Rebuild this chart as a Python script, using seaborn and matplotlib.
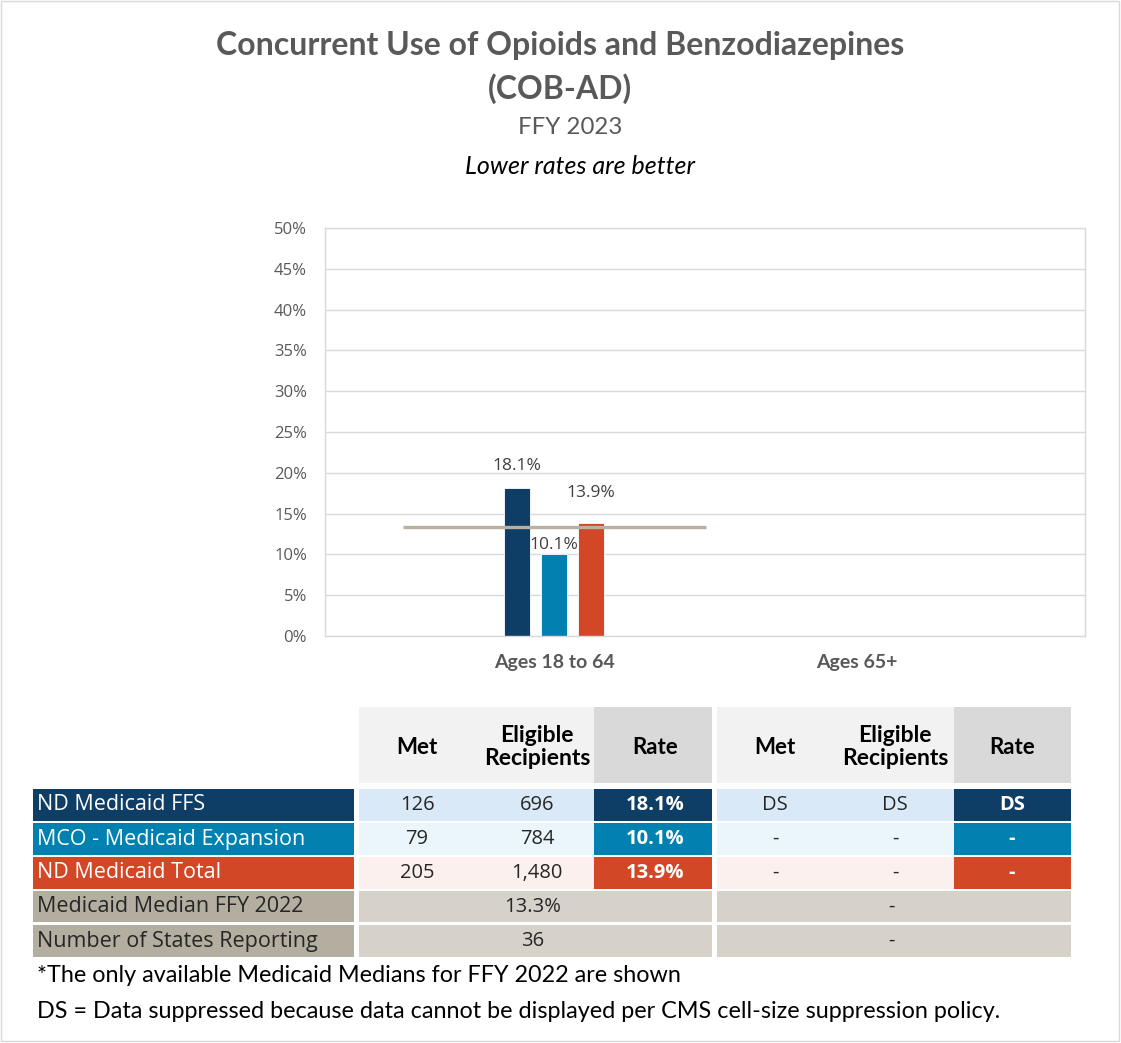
import numpy as np
import pandas as pd
import matplotlib
matplotlib.use("Agg")
import matplotlib.pyplot as plt
from matplotlib.patches import Rectangle
import seaborn as sns

# ---------------- data ----------------
categories = ["Ages 18 to 64", "Ages 65+"]
series = ["ND Medicaid FFS", "MCO - Medicaid Expansion", "ND Medicaid Total"]
rates_18_64 = [18.1, 10.1, 13.9]
rates_65_plus = [np.nan, np.nan, np.nan]
median_ffy2022 = 13.3
yticks = [0, 5, 10, 15, 20, 25, 30, 35, 40, 45, 50]

met_18_64 = ["126", "79", "205"]
eligible_18_64 = ["696", "784", "1,480"]
rate_text_18_64 = ["18.1%", "10.1%", "13.9%"]
met_65_plus = ["DS", "-", "-"]
eligible_65_plus = ["DS", "-", "-"]
rate_text_65_plus = ["DS", "-", "-"]
median_text = ["13.3%", "-"]
states_reporting = ["36", "-"]
footnotes = ["*The only available Medicaid Medians for FFY 2022 are shown",
             "DS = Data suppressed because data cannot be displayed per CMS cell-size suppression policy."]

series_colors = ["#0E3D66", "#0081B0", "#D24826"]
light_colors = ["#DAE9F7", "#EAF6FC", "#FBF0ED"]

# ---------------- figure ----------------
W, H = 1121, 1043
sns.set_theme(style="white")
plt.rcParams["font.family"] = ["Open Sans", "DejaVu Sans"]
fig = plt.figure(figsize=(W / 100, H / 100), dpi=100)
fig.patch.set_facecolor("white")

ax = fig.add_axes([325 / W, 1 - 636 / H, 760 / W, 408 / H])

df = pd.DataFrame({
    "category": np.repeat(categories, len(series)),
    "series": series * len(categories),
    "rate": rates_18_64 + rates_65_plus,
})

sns.barplot(data=df, x="category", y="rate", hue="series", order=categories,
            hue_order=series, palette=series_colors, saturation=1, width=0.366, gap=0.3,
            edgecolor="white", linewidth=0.6, legend=False, ax=ax)

# median line across first category
ax.hlines(median_ffy2022, -0.5, 0.5, color="#B8B1A2", linewidth=2.4, zorder=5)

# data labels (offsets in points)
label_offsets = [16, 6, 21]
for cont, val, dy in zip(ax.containers, rates_18_64, label_offsets):
    bar = cont.patches[0]
    xc = bar.get_x() + bar.get_width() / 2
    ax.annotate(f"{val:.1f}%", (xc, val), xytext=(0, dy), textcoords="offset points",
                ha="center", va="center", fontsize=12.5, color="#404040", zorder=6)

ax.set_ylim(0, 50)
ax.set_xlim(-0.756, 1.752)
ax.set_yticks(yticks)
ax.set_yticklabels([f"{t}%" for t in yticks], fontsize=12, color="#595959")
ax.tick_params(axis="y", length=0, pad=13)
ax.tick_params(axis="x", length=0, pad=13)
for lbl in ax.get_xticklabels():
    lbl.set_fontweight("bold")
    lbl.set_color("#595959")
    lbl.set_fontsize(14)
    lbl.set_family(["Lato", "DejaVu Sans"])
ax.set_xlabel("")
ax.set_ylabel("")
ax.grid(axis="y", color="#D9D9D9", linewidth=1)
ax.set_axisbelow(True)
for s in ax.spines.values():
    s.set_color("#D9D9D9")
    s.set_linewidth(1)

# ---------------- titles ----------------
title_font = ["Lato", "DejaVu Sans"]
fig.text(560 / W, 1 - 46 / H, "Concurrent Use of Opioids and Benzodiazepines",
         ha="center", va="center", fontsize=23, fontweight="bold", color="#595959",
         family=title_font)
fig.text(560 / W, 1 - 89 / H, "(COB-AD)", ha="center", va="center", fontsize=23,
         fontweight="bold", color="#595959", family=title_font)
fig.text(570 / W, 1 - 128 / H, "FFY 2023", ha="center", va="center", fontsize=17.3,
         color="#595959", family=title_font)
fig.text(580 / W, 1 - 166 / H, "Lower rates are better", ha="center", va="center",
         fontsize=18, style="italic", color="#000000", family=title_font)

# ---------------- table (overlay in pixel coordinates) ----------------
tab = fig.add_axes([0, 0, 1, 1], zorder=10)
tab.set_xlim(0, W)
tab.set_ylim(H, 0)
tab.axis("off")
tab.patch.set_alpha(0)


def cell(x0, x1, y0, y1, color):
    tab.add_patch(Rectangle((x0, y0), x1 - x0, y1 - y0, facecolor=color,
                            edgecolor="none"))


def txt(x, y, s, **kw):
    kw.setdefault("ha", "center")
    kw.setdefault("va", "center")
    tab.text(x, y, s, **kw)


groups = [(359, 594, 712), (717, 954, 1071)]
col_centers = [(417, 537, 655), (775, 895, 1012)]
header = (707, 783)
rows = [(789, 821), (823, 855), (857, 889), (891, 922), (925, 957)]
label_col = (33, 354)
hdr_font = ["Lato", "DejaVu Sans"]
tbl_font = ["Open Sans", "DejaVu Sans"]

# header
for (g0, r0, g1), cc in zip(groups, col_centers):
    cell(g0, r0, *header, "#F2F2F2")
    cell(r0, g1, *header, "#D9D9D9")
    txt(cc[0], 747, "Met", fontsize=16, fontweight="bold", color="#000000", family=hdr_font)
    txt(cc[1], 747, "Eligible\nRecipients", fontsize=16.5, fontweight="bold",
        color="#000000", family=hdr_font, linespacing=1.1)
    txt(cc[2], 747, "Rate", fontsize=16, fontweight="bold", color="#000000", family=hdr_font)

# series rows
group_values = [(met_18_64, eligible_18_64, rate_text_18_64),
                (met_65_plus, eligible_65_plus, rate_text_65_plus)]
for i, name in enumerate(series):
    y0, y1 = rows[i]
    ym = (y0 + y1) / 2
    cell(label_col[0], label_col[1], y0, y1, series_colors[i])
    txt(37, ym, name, ha="left", fontsize=15.5, color="white", family=tbl_font)
    for (g0, r0, g1), cc, vals in zip(groups, col_centers, group_values):
        cell(g0, r0, y0, y1, light_colors[i])
        cell(r0, g1, y0, y1, series_colors[i])
        txt(cc[0], ym, vals[0][i], fontsize=14.5, color="#262626", family=tbl_font)
        txt(cc[1], ym, vals[1][i], fontsize=14.5, color="#262626", family=tbl_font)
        txt(cc[2], ym, vals[2][i], fontsize=14.5, fontweight="bold", color="white",
            family=tbl_font)

# median rows
extra_labels = ["Medicaid Median FFY 2022", "Number of States Reporting"]
extra_values = [median_text, states_reporting]
for j, (lab, vals) in enumerate(zip(extra_labels, extra_values)):
    y0, y1 = rows[3 + j]
    ym = (y0 + y1) / 2
    cell(label_col[0], label_col[1], y0, y1, "#B4AEA1")
    txt(37, ym, lab, ha="left", fontsize=15.5, color="#262626", family=tbl_font)
    for (g0, r0, g1), v in zip(groups, vals):
        cell(g0, g1, y0, y1, "#D6D2CA")
        txt((g0 + g1) / 2 - 3, ym, v, fontsize=14.5, color="#262626", family=tbl_font)

# footnotes
txt(37, 976, footnotes[0], ha="left", fontsize=16.8, color="#000000", family=hdr_font)
txt(37, 1011, footnotes[1], ha="left", fontsize=16.8, color="#000000", family=hdr_font)

# outer light border
tab.add_patch(Rectangle((1, 1), W - 3, H - 3, facecolor="none", edgecolor="#D9D9D9",
                        linewidth=1))

fig.savefig("out.png", dpi=100, facecolor="white")
